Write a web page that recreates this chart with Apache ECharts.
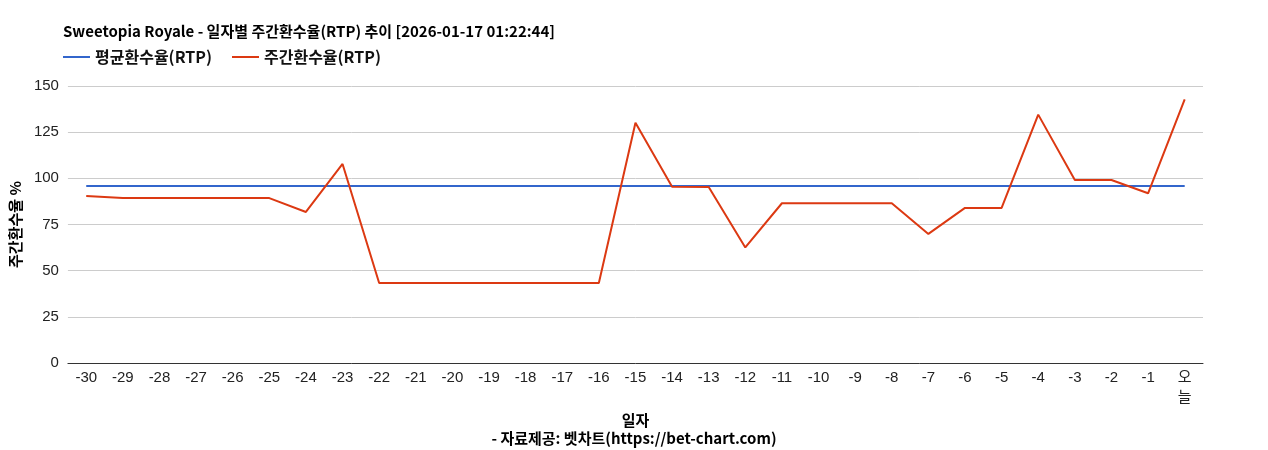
<!DOCTYPE html>
<html>
<head>
<meta charset="utf-8">
<script src="https://cdn.jsdelivr.net/npm/echarts@6/dist/echarts.min.js"></script>
<style>
  html, body { margin: 0; padding: 0; background: #fff; }
  #chart { width: 1268px; height: 450px; }
</style>
</head>
<body>
<div id="chart"></div>
<script>
// days: -30 .. -1, then today
const days = ['-30', '-29', '-28', '-27', '-26', '-25', '-24', '-23', '-22', '-21',
  '-20', '-19', '-18', '-17', '-16', '-15', '-14', '-13', '-12', '-11',
  '-10', '-9', '-8', '-7', '-6', '-5', '-4', '-3', '-2', '-1', '오늘']

// 평균환수율 (flat average)
const avgRtp = [95.9, 95.9, 95.9, 95.9, 95.9, 95.9, 95.9, 95.9, 95.9, 95.9,
  95.9, 95.9, 95.9, 95.9, 95.9, 95.9, 95.9, 95.9, 95.9, 95.9,
  95.9, 95.9, 95.9, 95.9, 95.9, 95.9, 95.9, 95.9, 95.9, 95.9, 95.9]

// 주간환수율
const weeklyRtp = [90.4, 89.3, 89.3, 89.3, 89.3, 89.3, 81.8, 107.8, 43.3, 43.3,
  43.3, 43.3, 43.3, 43.3, 43.3, 130.1, 95.5, 95.3, 62.6, 86.5,
  86.5, 86.5, 86.5, 69.9, 84.0, 84.0, 134.5, 99.1, 99.1, 91.9, 142.8]

const yTicks = [0, 25, 50, 75, 100, 125, 150]

const titleText = 'Sweetopia Royale - 일자별 주간환수율(RTP) 추이 [2026-01-17 01:22:44]'
const footerText = '- 자료제공: 벳차트(https://bet-chart.com)'

const krFont = '"Noto Sans CJK KR", "Noto Sans", sans-serif'
const axisFont = '"Liberation Sans", Arial, "Noto Sans CJK KR", sans-serif'

const chart = echarts.init(document.getElementById('chart'))
chart.setOption({
  animation: false,
  color: ['#3366cc', '#dc3912'],
  title: [
    {
      text: titleText,
      left: 58,
      top: 19,
      textStyle: {
        fontFamily: krFont,
        fontSize: 15,
        fontWeight: 'bold',
        color: '#000'
      }
    },
    {
      text: footerText,
      left: 'center',
      top: 426,
      textStyle: {
        fontFamily: krFont,
        fontSize: 15,
        fontWeight: 'bold',
        color: '#000'
      }
    }
  ],
  legend: {
    left: 58,
    top: 44,
    itemWidth: 27,
    itemHeight: 2,
    itemGap: 20,
    icon: 'rect',
    textStyle: {
      fontFamily: krFont,
      fontSize: 16,
      fontWeight: 'bold',
      color: '#111'
    },
    data: ['평균환수율(RTP)', '주간환수율(RTP)']
  },
  grid: {
    left: 63,
    right: 65,
    top: 86,
    bottom: 87,
    containLabel: false
  },
  xAxis: {
    type: 'category',
    data: days,
    name: '일자',
    nameLocation: 'middle',
    nameGap: 43,
    nameTextStyle: {
      fontFamily: krFont,
      fontSize: 15,
      fontWeight: 'bold',
      color: '#000'
    },
    axisLine: { lineStyle: { color: '#333', width: 1 } },
    axisTick: { show: false },
    axisLabel: {
      interval: 0,
      margin: 5,
      fontFamily: axisFont,
      fontSize: 15,
      color: '#222',
      lineHeight: 20,
      formatter: function(v) {
        return v === '오늘' ? '오\n늘' : v
      }
    }
  },
  yAxis: {
    type: 'value',
    min: 0,
    max: 150,
    interval: 25,
    name: '주간환수율 %',
    nameLocation: 'middle',
    nameGap: 41,
    nameTextStyle: {
      fontFamily: krFont,
      fontSize: 15,
      fontWeight: 'bold',
      color: '#000'
    },
    axisLine: { show: false },
    axisTick: { show: false },
    axisLabel: {
      margin: 9,
      fontFamily: axisFont,
      fontSize: 15,
      color: '#222',
      formatter: function(v) {
        return yTicks.indexOf(v) >= 0 ? String(v) : ''
      }
    },
    splitLine: { lineStyle: { color: '#cccccc', width: 1 } }
  },
  series: [
    {
      name: '평균환수율(RTP)',
      type: 'line',
      data: avgRtp,
      symbol: 'none',
      lineStyle: { width: 2, color: '#3366cc' }
    },
    {
      name: '주간환수율(RTP)',
      type: 'line',
      data: weeklyRtp,
      symbol: 'none',
      lineStyle: { width: 2, color: '#dc3912' }
    }
  ]
})
</script>
</body>
</html>
